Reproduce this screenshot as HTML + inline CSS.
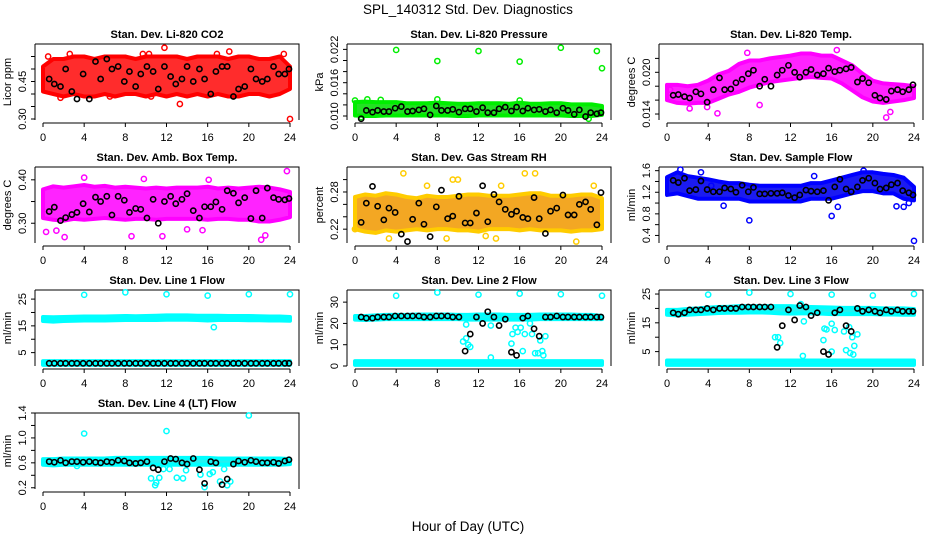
<!DOCTYPE html>
<html><head><meta charset="utf-8"><style>
html,body{margin:0;padding:0;background:#fff}
svg{display:block;font-family:"Liberation Sans",Arial,sans-serif}
</style></head><body>
<svg id="fig" width="936" height="540" viewBox="0 0 936 540" xmlns="http://www.w3.org/2000/svg">
<text x="468" y="14" text-anchor="middle" font-size="13.5">SPL_140312  Std. Dev. Diagnostics</text>
<text x="468" y="531" text-anchor="middle" font-size="13.5">Hour of Day (UTC)</text>
</svg>
<script>
const hours=[0.6,1.1,1.7,2.2,2.8,3.3,3.9,4.5,5.1,5.6,6.2,6.7,7.3,7.9,8.4,9.0,9.5,10.1,10.7,11.2,11.8,12.4,12.9,13.5,14.0,14.6,15.2,15.7,16.3,16.8,17.4,17.9,18.5,19.0,19.6,20.2,20.7,21.3,21.8,22.4,22.9,23.5,23.9];
const bandHours=[0,1,2,3,4,5,6,7,8,9,10,11,12,13,14,15,16,17,18,19,20,21,22,23,24];
const xTicks=[0,4,8,12,16,20,24];

const co2Black=[.46,.44,.43,.50,.41,.38,.48,.38,.53,.46,.54,.50,.51,.45,.49,.43,.48,.51,.49,.42,.51,.47,.44,.46,.51,.45,.50,.46,.40,.49,.51,.51,.39,.42,.43,.50,.46,.45,.46,.51,.48,.48,.50];
const co2Lo=[.41,.40,.39,.40,.39,.39,.40,.39,.40,.40,.39,.40,.39,.40,.39,.40,.39,.40,.39,.39,.40,.40,.39,.40,.42];
const co2Hi=[.51,.54,.54,.55,.55,.54,.55,.55,.55,.54,.55,.55,.55,.55,.54,.55,.55,.55,.54,.55,.55,.54,.54,.55,.51];
const co2OutX=[0.5,1.7,13.3,11.8,18.1,24,9.7,10.3,16.9,6.5,10.5,2.6,23.4];
const co2OutY=[.55,.385,.36,.585,.57,.30,.56,.56,.56,.39,.39,.56,.56];

const presBlack=[.0095,.0110,.0107,.0110,.0108,.0108,.0114,.0117,.0108,.0109,.0111,.0113,.0102,.0118,.0110,.0110,.0112,.0107,.0113,.0113,.0108,.0115,.0106,.0106,.0113,.0116,.0109,.0116,.0109,.0114,.0111,.0112,.0108,.0111,.0106,.0114,.0110,.0103,.0111,.0099,.0106,.0104,.0106];
const presLo=[.0101,.0100,.0100,.0101,.0101,.0101,.0101,.0101,.0101,.0101,.0100,.0100,.0101,.0101,.0101,.0101,.0101,.0101,.0101,.0101,.0101,.0100,.0100,.0100,.0102];
const presHi=[.0125,.0126,.0125,.0125,.0125,.0123,.0123,.0123,.0124,.0123,.0122,.0122,.0123,.0123,.0123,.0122,.0124,.0122,.0122,.0123,.0123,.0121,.0121,.0121,.0118];
const presOutX=[4,8,12,16,20,23.5,24,8,1.2,0,2.5,16,0.6,22.7];
const presOutY=[.0219,.0199,.0217,.0198,.0223,.0217,.0186,.0130,.0130,.0128,.0129,.0128,.0098,.0095];

const tempBlack=[.0167,.0168,.0165,.0163,.0172,.0169,.0157,.0175,.0192,.0175,.0176,.0185,.0190,.0198,.0203,.0180,.0190,.0180,.0196,.0203,.0210,.0200,.0193,.0200,.0204,.0196,.0198,.0206,.0201,.0203,.0205,.0207,.0186,.0191,.0185,.0167,.0163,.0161,.0173,.0175,.0172,.0175,.0182];
const tempLo=[.0160,.0156,.0155,.0156,.0156,.0162,.0168,.0172,.0178,.0182,.0186,.0188,.0190,.0192,.0193,.0192,.0191,.0184,.0174,.0164,.0158,.0156,.0158,.0160,.0163];
const tempHi=[.0182,.0182,.0180,.0182,.0188,.0197,.0202,.0212,.0217,.0217,.0220,.0222,.0224,.0227,.0227,.0224,.0224,.0217,.0210,.0198,.0188,.0184,.0183,.0182,.0180];
const tempOutX=[0.3,2.2,4.9,9.0,21.3,21.7,16.5,7.8,3.9];
const tempOutY=[.0175,.0148,.0141,.0153,.0135,.0143,.0232,.0228,.0150];

const ambBlack=[.327,.337,.306,.313,.320,.325,.345,.326,.360,.350,.362,.319,.362,.353,.325,.334,.332,.312,.355,.300,.350,.362,.345,.355,.368,.329,.312,.338,.338,.349,.332,.375,.369,.347,.359,.311,.375,.312,.381,.359,.355,.354,.357];
const ambLo=[.312,.308,.306,.310,.308,.310,.312,.310,.308,.310,.310,.308,.310,.310,.310,.310,.308,.310,.310,.308,.308,.304,.304,.308,.314];
const ambHi=[.378,.385,.382,.385,.388,.384,.386,.382,.384,.382,.380,.382,.380,.382,.382,.382,.384,.380,.382,.380,.382,.384,.382,.378,.372];
const ambOutX=[23.7,0.3,2.1,8.6,11.6,21.2,1.3,4.0,9.8,16.1,15.5,14.0,21.6];
const ambOutY=[.420,.280,.268,.270,.270,.262,.283,.405,.402,.400,.284,.286,.272];

const rhBlack=[.231,.262,.289,.257,.235,.254,.247,.212,.200,.236,.262,.228,.208,.256,.283,.237,.241,.273,.230,.230,.246,.290,.232,.276,.264,.252,.244,.249,.239,.237,.271,.237,.213,.249,.254,.275,.243,.243,.260,.264,.252,.227,.279];
const rhLo=[.220,.216,.214,.218,.216,.218,.220,.218,.220,.220,.218,.218,.216,.220,.220,.220,.218,.220,.218,.218,.218,.216,.218,.218,.220];
const rhHi=[.272,.276,.274,.278,.276,.272,.270,.274,.272,.272,.274,.276,.276,.274,.274,.274,.276,.278,.278,.274,.274,.274,.276,.276,.270];
const rhOutX=[4.7,16.5,17.5,21.5,0,3.3,8.9,13.7,12.7,9.5,10.0,23.2,7.0,14.2];
const rhOutY=[.31,.31,.31,.20,.22,.205,.205,.205,.209,.30,.30,.29,.29,.29];

const flowBlack=[1.42,1.38,1.46,1.23,1.25,1.41,1.25,1.21,1.21,1.28,1.26,1.20,1.33,1.21,1.29,1.17,1.17,1.18,1.18,1.19,1.14,1.10,1.15,1.24,1.22,1.21,1.23,1.05,1.30,1.44,1.26,1.21,1.30,1.42,1.46,1.37,1.26,1.28,1.34,1.37,1.23,1.19,1.15];
const flowLo=[1.15,1.18,1.13,1.08,1.08,1.08,1.08,1.08,1.03,1.03,1.03,1.03,1.03,1.03,1.08,1.08,1.08,1.13,1.18,1.22,1.22,1.18,1.18,1.08,1.05];
const flowHi=[1.48,1.57,1.50,1.47,1.44,1.40,1.37,1.37,1.34,1.32,1.32,1.32,1.32,1.32,1.37,1.37,1.42,1.47,1.52,1.57,1.57,1.54,1.52,1.47,1.30];
const flowOutX=[8,16,24,22.3,23,23.5,16.6,5.5,1.3,3.3,14.3,19.1,4.3];
const flowOutY=[.68,.76,.30,.94,.93,1.00,.93,.95,1.62,1.57,1.50,1.60,1.32];

const l1Black=[1,1,1,1,1,1,1,1,1,1,1,1,1,1,1,1,1,1,1,1,1,1,1,1,1,1,1,1,1,1,1,1,1,1,1,1,1,1,1,1,1,1,1];
const l1UpLo=[16.8,16.6,16.8,16.9,17.0,17.0,17.0,17.1,17.2,17.2,17.2,17.2,17.3,17.3,17.3,17.2,17.0,17.2,17.2,17.2,17.1,17.1,17.0,17.0,16.9];
const l1UpHi=[18.3,18.2,18.3,18.4,18.5,18.5,18.5,18.6,18.7,18.6,18.7,18.8,18.9,18.9,18.9,18.8,18.8,18.8,18.7,18.7,18.7,18.6,18.5,18.5,18.3];
const l1LoLo=[0.4,0.4,0.4,0.4,0.4,0.4,0.4,0.4,0.4,0.4,0.4,0.4,0.4,0.4,0.4,0.4,0.4,0.4,0.4,0.4,0.4,0.4,0.4,0.4,0.4];
const l1LoHi=[1.8,1.8,1.8,1.8,1.8,1.8,1.8,1.8,1.8,1.8,1.8,1.8,1.8,1.8,1.8,1.8,1.8,1.8,1.8,1.8,1.8,1.8,1.8,1.8,1.8];
const l1OutX=[4,8,12,16,20,24,16.6];
const l1OutY=[26.6,27.5,26.8,26.3,26.8,26.8,14.5];

const l2Black=[23,22.5,22.5,23,23,23,23.5,23.5,23.5,23.5,23.5,23,23,23.5,23.5,23.5,23,23,7,15,23,20,25.5,23,19,22,6.5,5,22.5,23.5,17.5,14,23,23,23.5,23,23,23,23,23,23,23,23];
const l2UpLo=[21.8,21.6,21.8,22.0,22.0,22.0,22.0,22.0,22.0,22.0,22.0,21.8,21.8,21.8,21.8,21.8,21.8,21.8,22.0,22.0,22.0,22.0,22.0,22.0,22.0];
const l2UpHi=[23.5,23.5,23.8,24.0,24.0,24.0,24.2,24.2,24.2,24.2,24.0,24.0,24.2,24.2,24.2,24.0,24.0,24.0,24.2,24.2,24.2,24.2,24.0,24.0,23.5];
const l2LoLo=[0.5,0.5,0.5,0.5,0.5,0.5,0.5,0.5,0.5,0.5,0.5,0.5,0.5,0.5,0.5,0.5,0.5,0.5,0.5,0.5,0.5,0.5,0.5,0.5,0.5];
const l2LoHi=[2.3,2.3,2.3,2.3,2.3,2.3,2.3,2.3,2.3,2.3,2.3,2.3,2.3,2.3,2.3,2.3,2.3,2.3,2.3,2.3,2.3,2.3,2.3,2.3,2.3];
const l2OutX=[4,8,12,16,20,24,10.5,10.8,11,11.2,10.8,13.2,13.2,15.3,15.6,15.8,16.1,16.3,16.5,17,17.2,17.5,17.8,18,18.2,18.5,18.3,15.2];
const l2OutY=[33,34.5,33.5,34,33.7,33,11.5,13,10,9,19.5,19,4,15,18,16,18,7,15,20,15,6,6,12,7,14,5,10.5];

const l3Black=[18.5,18,18.5,19.5,19.5,19.5,20,19.5,20,20,20,20,20.5,20.5,20.5,20.5,20.5,20.5,6.5,14,19.5,16,21,20.5,17.5,18.5,5,4,18.5,19.5,14,12,20,19,19.5,19,18.5,19.5,19,19.5,19,19,19];
const l3UpLo=[17.8,17.6,17.8,18.0,18.2,18.4,18.5,18.5,18.6,18.6,18.5,18.3,18.2,18.3,18.3,18.2,18.0,18.0,18.0,18.0,18.0,17.9,17.9,17.8,17.8];
const l3UpHi=[19.5,19.5,19.8,20.0,20.3,20.5,20.6,20.8,20.8,20.8,20.8,20.8,20.8,20.6,20.5,20.4,20.3,20.2,20.2,20.2,20.2,20.0,20.0,20.0,19.8];
const l3LoLo=[0.4,0.4,0.4,0.4,0.4,0.4,0.4,0.4,0.4,0.4,0.4,0.4,0.4,0.4,0.4,0.4,0.4,0.4,0.4,0.4,0.4,0.4,0.4,0.4,0.4];
const l3LoHi=[1.9,1.9,1.9,1.9,1.9,1.9,1.9,1.9,1.9,1.9,1.9,1.9,1.9,1.9,1.9,1.9,1.9,1.9,1.9,1.9,1.9,1.9,1.9,1.9,1.9];
const l3OutX=[4,8,12,16,20,24,10.5,10.8,11,13,13.3,13.2,15.3,15.5,16,16.3,15.2,16,17.2,17.4,17.8,18,18.2,18.5,18.1,17.7];
const l3OutY=[24.8,25.5,25,24.8,24.5,25,10,10,8,21.5,15.5,3.5,13,12.7,14.7,12.5,9,5,12,5.5,4.5,10,7,11,4,13.5];

const l4Black=[.62,.61,.64,.60,.62,.62,.61,.62,.61,.60,.62,.61,.64,.63,.60,.59,.60,.62,.52,.49,.62,.67,.66,.60,.58,.67,.49,.27,.62,.60,.25,.34,.58,.63,.61,.64,.62,.60,.60,.61,.59,.63,.65];
const l4Lo=[.57,.56,.57,.57,.57,.57,.57,.57,.57,.57,.57,.57,.57,.57,.57,.57,.57,.57,.57,.57,.57,.57,.57,.57,.58];
const l4Hi=[.66,.66,.67,.67,.67,.67,.67,.68,.68,.68,.68,.68,.68,.68,.68,.68,.68,.67,.67,.67,.67,.67,.67,.67,.66];
const l4OutX=[4,12,20,10.5,10.9,11,11.3,11.7,12.3,13,13.6,13.9,15.3,15.7,16.2,16.5,17.2,17.6,17.9,18.2,3.3];
const l4OutY=[1.07,1.11,1.36,.35,.24,.28,.36,.50,.50,.36,.35,.48,.41,.21,.42,.45,.30,.50,.24,.30,.55];

const NS='http://www.w3.org/2000/svg';
const svg=document.getElementById('fig');
function mk(tag,attrs,parent){const e=document.createElementNS(NS,tag);for(const k in attrs)e.setAttribute(k,attrs[k]);(parent||svg).appendChild(e);return e;}

const panels=[
 {col:0,row:0,title:'Stan. Dev. Li-820 CO2',ylab:'Licor ppm',ylim:[0.296,0.60],ticks:[.30,.35,.40,.45,.50,.55],labels:[.30,.45],fmt:2,color:'#ff0000',band:'#ff1a1a',black:co2Black,bands:[[co2Lo,co2Hi]],ox:co2OutX,oy:co2OutY},
 {col:1,row:0,title:'Stan. Dev. Li-820 Pressure',ylab:'kPa',ylim:[0.00928,0.02297],ticks:[.010,.012,.014,.016,.018,.020,.022],labels:[.010,.016,.022],fmt:3,color:'#00ee00',band:'#10dd10',black:presBlack,bands:[[presLo,presHi]],ox:presOutX,oy:presOutY},
 {col:2,row:0,title:'Stan. Dev. Li-820 Temp.',ylab:'degrees C',ylim:[0.01314,0.02407],ticks:[.014,.016,.018,.020,.022],labels:[.014,.020],fmt:3,color:'#ff00ff',band:'#ff10ff',black:tempBlack,bands:[[tempLo,tempHi]],ox:tempOutX,oy:tempOutY},
 {col:0,row:1,title:'Stan. Dev. Amb. Box Temp.',ylab:'degrees C',ylim:[0.2545,0.4295],ticks:[.30,.35,.40],labels:[.30,.40],fmt:2,color:'#ff00ff',band:'#ff10ff',black:ambBlack,bands:[[ambLo,ambHi]],ox:ambOutX,oy:ambOutY},
 {col:1,row:1,title:'Stan. Dev. Gas Stream RH',ylab:'percent',ylim:[0.1977,0.3203],ticks:[.22,.24,.26,.28,.30],labels:[.22,.28],fmt:2,color:'#ffcc00',band:'#f2a010',black:rhBlack,bands:[[rhLo,rhHi]],ox:rhOutX,oy:rhOutY},
 {col:2,row:1,title:'Stan. Dev. Sample Flow',ylab:'ml/min',ylim:[0.26,1.668],ticks:[.4,.6,.8,1.0,1.2,1.4,1.6],labels:[.4,.8,1.2,1.6],fmt:1,color:'#0000ff',band:'#0808f0',black:flowBlack,bands:[[flowLo,flowHi]],ox:flowOutX,oy:flowOutY},
 {col:0,row:2,title:'Stan. Dev. Line 1 Flow',ylab:'ml/min',ylim:[0,28.4],ticks:[5,10,15,20,25],labels:[5,15,25],fmt:0,color:'#00ffff',band:'#10f0f0',black:l1Black,bands:[[l1UpLo,l1UpHi],[l1LoLo,l1LoHi]],ox:l1OutX,oy:l1OutY},
 {col:1,row:2,title:'Stan. Dev. Line 2 Flow',ylab:'ml/min',ylim:[0,35.7],ticks:[0,10,20,30],labels:[0,10,20,30],fmt:0,color:'#00ffff',band:'#10f0f0',black:l2Black,bands:[[l2UpLo,l2UpHi],[l2LoLo,l2LoHi]],ox:l2OutX,oy:l2OutY},
 {col:2,row:2,title:'Stan. Dev. Line 3 Flow',ylab:'ml/min',ylim:[0,26.4],ticks:[5,10,15,20,25],labels:[5,15,25],fmt:0,color:'#00ffff',band:'#10f0f0',black:l3Black,bands:[[l3UpLo,l3UpHi],[l3LoLo,l3LoHi]],ox:l3OutX,oy:l3OutY},
 {col:0,row:3,title:'Stan. Dev. Line 4 (LT) Flow',ylab:'ml/min',ylim:[0.18,1.4],ticks:[.2,.4,.6,.8,1.0,1.2,1.4],labels:[.2,.6,1.0,1.4],fmt:1,color:'#00ffff',band:'#10f0f0',black:l4Black,bands:[[l4Lo,l4Hi]],ox:l4OutX,oy:l4OutY}
];
const rowTop=[44,167,290,413], PH=76;

panels.forEach((p,i)=>{
 const off=312*p.col, left=35+off, right=299+off, top=rowTop[p.row], bot=top+PH;
 const xS=h=>43+off+h*(247/24);
 const yS=v=>bot-(v-p.ylim[0])/(p.ylim[1]-p.ylim[0])*PH;
 const g=mk('g',{});
 
 
 const t=mk('text',{x:(left+right)/2,y:top-6,'text-anchor':'middle','font-size':'11','font-weight':'bold'},g);
 t.textContent=p.title;
 
 
 const frame=mk('path',{d:`M${left},${top}H${right}V${bot}M${left},${top}V${bot}`,stroke:'#000','stroke-width':1,fill:'none'},g);
 
 
 const xa=mk('g',{},g);
 
 
 mk('line',{x1:xS(0),x2:xS(24),y1:bot+3,y2:bot+3,stroke:'#000'},xa);
 xTicks.forEach(h=>{
  mk('line',{x1:xS(h),x2:xS(h),y1:bot+3,y2:bot+7,stroke:'#000'},xa);
  const tl=mk('text',{x:xS(h),y:bot+21,'text-anchor':'middle','font-size':'11'},xa);
  tl.textContent=h;
  
  
 });
 const ya=mk('g',{},g);
 
 
 p.ticks.forEach(v=>mk('line',{x1:left-4,x2:left,y1:yS(v),y2:yS(v),stroke:'#000'},ya));
 p.labels.forEach(v=>{
  const yl=mk('text',{x:0,y:0,'text-anchor':'middle','font-size':'11',transform:`translate(${left-9},${yS(v)}) rotate(-90)`},ya);
  yl.textContent=v.toFixed(p.fmt);
  
  
 });
 const yt=mk('text',{x:0,y:0,'text-anchor':'middle','font-size':'11',transform:`translate(${left-24},${(top+bot)/2}) rotate(-90)`},g);
 yt.textContent=p.ylab;
 
 
 p.bands.forEach(([lo,hi])=>{
  let d='M'+bandHours.map((h,k)=>xS(h)+','+yS(hi[k])).join('L')+'L'+bandHours.slice().reverse().map((h,k)=>xS(h)+','+yS(lo[lo.length-1-k])).join('L')+'Z';
  const b=mk('path',{d:d,fill:p.band,'fill-opacity':0.92,stroke:p.color,'stroke-width':4,'stroke-linejoin':'round'},g);
  
  
 });
 p.ox.forEach((h,k)=>{
  const c=mk('circle',{cx:xS(h),cy:yS(p.oy[k]),r:2.6,fill:'none',stroke:p.color,'stroke-width':1.5},g);
  
  
 });
 p.black.forEach((v,k)=>{
  if(k>=hours.length)return;
  const c=mk('circle',{cx:xS(hours[k]),cy:yS(v),r:2.6,fill:'none',stroke:'#000','stroke-width':1.6},g);
  
  
 });
});
</script>
</body></html>
